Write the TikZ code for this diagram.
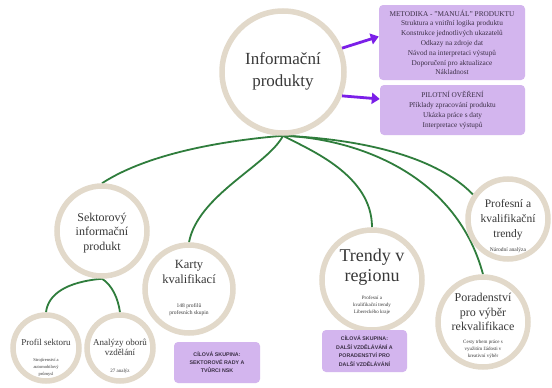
\documentclass[tikz,border=0pt]{standalone}
\usepackage{fontspec}
\setmainfont{Liberation Serif}
\newfontfamily\boxsans{Liberation Sans}
\usetikzlibrary{arrows.meta,backgrounds}
\definecolor{ringc}{HTML}{E2D9CA}
\definecolor{boxp}{HTML}{D3B5EE}
\definecolor{arrp}{HTML}{7B1FE8}
\definecolor{grn}{HTML}{2F7D3C}
\definecolor{txt}{HTML}{383838}
\definecolor{boxt}{HTML}{3A2F45}
\begin{document}
\begin{tikzpicture}[x=1pt,y=-1pt,
  ring/.style={circle, draw=ringc, line width=5.5pt, fill=white, inner sep=0pt, minimum size=#1},
  ttl/.style={align=center, text=txt, inner sep=0pt},
  sub/.style={align=center, text=txt, inner sep=0pt, font=\fontsize{5}{7}\selectfont},
  pbox/.style={fill=boxp, rounded corners=4pt, align=center, text=boxt, inner sep=0pt},
  conn/.style={draw=grn, line width=1.8pt},
  parrow/.style={draw=arrp, line width=2.8pt, -{Triangle[length=8pt,width=11pt]}}]
\useasboundingbox (0,0) rectangle (552,388);

% circles
\node[ring=122] (main) at (283,72) {};
\node[ring=90] (sek) at (102,231) {};
\node[ring=66] (profil) at (46,348) {};
\node[ring=66] (anal) at (120,348) {};
\node[ring=88] (karty) at (189,289) {};
\node[ring=100] (trendy) at (372,280) {};
\node[ring=90] (pora) at (483,322) {};
\node[ring=80] (prof) at (508,219) {};

% titles
\node[ttl, font=\fontsize{17}{22}\selectfont] (mainT) at (283,71) {Informační\\produkty};
\node[ttl, font=\fontsize{12}{14.5}\selectfont] (sekT) at (102,233) {Sektorový\\informační\\produkt};
\node[ttl, font=\fontsize{9}{10}\selectfont] (profilT) at (46,342) {Profil sektoru};
\node[sub, font=\fontsize{4.5}{7}\selectfont] (profilS) at (46,367) {Strojírenství a\\automobilový\\průmysl};
\node[ttl, font=\fontsize{9}{10}\selectfont] (analT) at (120,347) {Analýzy oborů\\vzdělání};
\node[sub] (analS) at (120,371) {27 analýz};
\node[ttl, font=\fontsize{12.5}{15}\selectfont] (kartyT) at (189,272) {Karty\\kvalifikací};
\node[sub, font=\fontsize{5.5}{7}\selectfont] (kartyS) at (189,310) {148 profilů\\profesních skupin};
\node[ttl, font=\fontsize{18}{20}\selectfont] (trendyT) at (372,267) {Trendy v\\regionu};
\node[sub] (trendyS) at (372,305) {Profesní a\\kvalifikační trendy\\Libereckého kraje};
\node[ttl, font=\fontsize{12}{14.5}\selectfont] (poraT) at (483,312) {Poradenství\\pro výběr\\rekvalifikace};
\node[sub] (poraS) at (483,349) {Cesty trhem práce s\\využitím žádosti v\\kreativní výběr};
\node[ttl, font=\fontsize{11.5}{15}\selectfont] (profT) at (508,220) {Profesní a\\kvalifikační\\trendy};
\node[sub, font=\fontsize{5.5}{7}\selectfont] (profS) at (508,250) {Národní analýza};

% boxes
\node[pbox, minimum width=146pt, minimum height=75pt, font=\fontsize{7.3}{9.8}\selectfont] (box1) at (452,42.5)
  {METODIKA - "MANUÁL" PRODUKTU\\Struktura a vnitřní logika produktu\\Konstrukce jednotlivých ukazatelů\\Odkazy na zdroje dat\\Návod na interpretaci výstupů\\Doporučení pro aktualizace\\Nákladnost};
\node[pbox, minimum width=145pt, minimum height=50pt, font=\fontsize{7.3}{9.8}\selectfont] (box2) at (452.5,110)
  {PILOTNÍ OVĚŘENÍ\\Příklady zpracování  produktu\\Ukázka práce s daty\\Interpretace výstupů};
\node[pbox, minimum width=86pt, minimum height=41pt, font=\boxsans\bfseries\fontsize{5.3}{8}\selectfont] (box3) at (217,362.5)
  {CÍLOVÁ SKUPINA:\\SEKTOROVÉ RADY A\\TVŮRCI NSK};
\node[pbox, minimum width=85pt, minimum height=42pt, font=\boxsans\bfseries\fontsize{5.3}{8.5}\selectfont] (box4) at (364.5,351)
  {CÍLOVÁ SKUPINA:\\DALŠÍ VZDĚLÁVÁNÍ A\\PORADENSTVÍ PRO\\DALŠÍ VZDĚLÁVÁNÍ};

% purple arrows
\draw[parrow] (main.22) -- ([yshift=6pt]box1.west);
\draw[parrow] (main.-22) -- ([yshift=11pt]box2.west);

% green connectors
\begin{scope}[on background layer]
\fill[white] (0,0) rectangle (552,388);
\draw[conn] (main.south) .. controls (230,140) and (150,152) .. (sek.north);
\draw[conn] (main.south) .. controls (268,165) and (198,195) .. (karty.north);
\draw[conn] (main.south) .. controls (310,150) and (372,175) .. (trendy.north);
\draw[conn] (main.south) .. controls (340,138) and (430,150) .. (prof.145);
\draw[conn] (main.south) .. controls (350,138) and (455,170) .. (pora.north);
\draw[conn] (sek.south) .. controls (65,282) and (48,295) .. (profil.north);
\draw[conn] (sek.south) .. controls (112,285) and (118,298) .. (anal.north);
\end{scope}
\end{tikzpicture}
\end{document}
